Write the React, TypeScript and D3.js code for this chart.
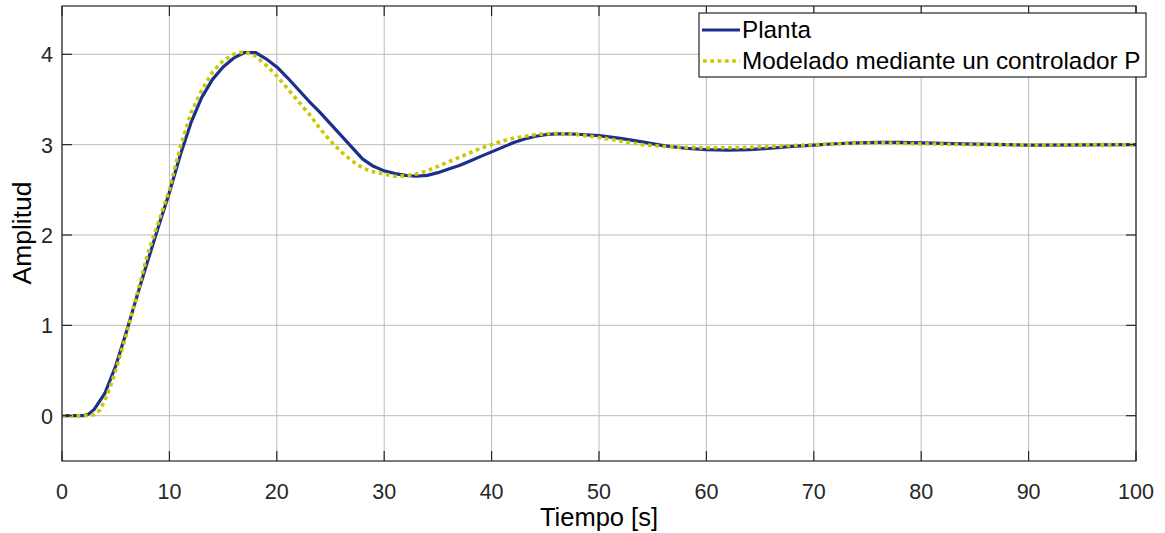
import React from "react";
import * as d3 from "d3";

const plantaT = [0,1,2,2.5,3,4,5,6,7,8,9,10,11,12,13,14,15,16,17,18,19,20,21,22,23,24,25,26,27,28,29,30,31,32,33,34,35,36,37,38,39,40,41,42,43,44,45,46,47,48,50,52,54,56,58,60,62,64,66,68,70,72,74,76,78,80,82,85,88,90,95,100];
const plantaV = [0,0,0,0.02,0.07,0.25,0.55,0.93,1.33,1.72,2.1,2.47,2.88,3.24,3.52,3.72,3.86,3.96,4.02,4.02,3.95,3.86,3.74,3.61,3.48,3.36,3.23,3.1,2.97,2.84,2.76,2.71,2.68,2.66,2.65,2.66,2.69,2.73,2.77,2.82,2.87,2.92,2.97,3.02,3.06,3.09,3.11,3.12,3.12,3.115,3.1,3.07,3.03,2.99,2.96,2.945,2.94,2.945,2.96,2.98,2.995,3.01,3.02,3.025,3.025,3.02,3.015,3.005,3.0,2.995,2.998,3.0];

const modeloT = [0,1,2,3,3.5,4,4.5,5,6,7,8,9,10,11,12,13,14,15,16,17,18,19,20,21,22,23,24,25,26,27,28,29,30,31,32,33,34,35,36,37,38,39,40,41,42,43,44,45,46,47,48,50,52,54,56,58,60,62,64,66,68,70,72,74,76,78,80,85,90,95,100];
const modeloV = [0,0,0,0.01,0.06,0.17,0.32,0.5,0.9,1.35,1.8,2.15,2.5,2.97,3.35,3.6,3.8,3.93,4.0,4.03,3.98,3.88,3.76,3.62,3.48,3.34,3.18,3.04,2.92,2.82,2.74,2.7,2.675,2.65,2.655,2.675,2.71,2.76,2.81,2.86,2.91,2.96,3.0,3.04,3.07,3.09,3.11,3.12,3.125,3.12,3.11,3.08,3.04,3.0,2.98,2.97,2.965,2.965,2.97,2.98,2.99,3.0,3.01,3.015,3.02,3.015,3.01,3.0,2.997,3.0,3.0];

const xTicks = [0,10,20,30,40,50,60,70,80,90,100];
const yTicks = [0,1,2,3,4];
const legendLabels = ["Planta", "Modelado mediante un controlador P"];
const xLabel = "Tiempo [s]";
const yLabel = "Amplitud";

const W = 1165, H = 533;
const left = 62, right = 1136, top = 6, bottom = 461;
const FONT = "'Liberation Sans', Arial, Helvetica, sans-serif";
const BLUE = "#1c2f8f";
const YELLOW = "#c9c900";

export default function App() {
  const x = d3.scaleLinear().domain([0, 100]).range([left, right]);
  const y = d3.scaleLinear().domain([0, 4]).range([415.7, 54.3]);
  const line = d3.line<[number, number]>().x(d => x(d[0])).y(d => y(d[1]));
  const planta = plantaT.map((t, i) => [t, plantaV[i]] as [number, number]);
  const modelo = modeloT.map((t, i) => [t, modeloV[i]] as [number, number]);
  const tickLen = 10;
  return (
    <svg width={W} height={H} style={{ position: "absolute", left: 0, top: 0, background: "#fff" }} fontFamily={FONT}>
      <rect x={0} y={0} width={W} height={H} fill="#fff" />
      {xTicks.map(t => (
        <line key={"gx" + t} x1={x(t)} x2={x(t)} y1={top} y2={bottom} stroke="#bcbcbc" strokeWidth={1} />
      ))}
      {yTicks.map(t => (
        <line key={"gy" + t} x1={left} x2={right} y1={y(t)} y2={y(t)} stroke="#bcbcbc" strokeWidth={1} />
      ))}
      <path d={line(planta) || ""} fill="none" stroke={BLUE} strokeWidth={3.2} strokeLinejoin="round" />
      <path d={line(modelo) || ""} fill="none" stroke={YELLOW} strokeWidth={3.6} strokeDasharray="3.7 3.6" />
      <rect x={left} y={top} width={right - left} height={bottom - top} fill="none" stroke="#262626" strokeWidth={1.2} />
      {xTicks.map(t => (
        <g key={"tx" + t}>
          <line x1={x(t)} x2={x(t)} y1={bottom} y2={bottom - tickLen} stroke="#262626" strokeWidth={1.2} />
          <line x1={x(t)} x2={x(t)} y1={top} y2={top + tickLen} stroke="#262626" strokeWidth={1.2} />
          <text x={x(t)} y={499} textAnchor="middle" fontSize={21.5} fill="#262626">{t}</text>
        </g>
      ))}
      {yTicks.map(t => (
        <g key={"ty" + t}>
          <line x1={left} x2={left + tickLen} y1={y(t)} y2={y(t)} stroke="#262626" strokeWidth={1.2} />
          <line x1={right} x2={right - tickLen} y1={y(t)} y2={y(t)} stroke="#262626" strokeWidth={1.2} />
          <text x={53} y={y(t) + 8} textAnchor="end" fontSize={21.5} fill="#262626">{t}</text>
        </g>
      ))}
      <text x={599} y={526} textAnchor="middle" fontSize={25.5} fill="#000">{xLabel}</text>
      <text transform={`translate(31,233) rotate(-90)`} textAnchor="middle" fontSize={26.5} fill="#000">{yLabel}</text>
      <rect x={699} y={13} width={447} height={64} fill="#fff" stroke="#262626" strokeWidth={1.2} />
      <line x1={702} x2={740} y1={30} y2={30} stroke={BLUE} strokeWidth={3.2} />
      <line x1={703} x2={740} y1={61} y2={61} stroke={YELLOW} strokeWidth={3.6} strokeDasharray="3.7 3.6" />
      <text x={742} y={38} fontSize={24.3} fill="#000">{legendLabels[0]}</text>
      <text x={742} y={69} fontSize={24.3} fill="#000">{legendLabels[1]}</text>
    </svg>
  );
}
